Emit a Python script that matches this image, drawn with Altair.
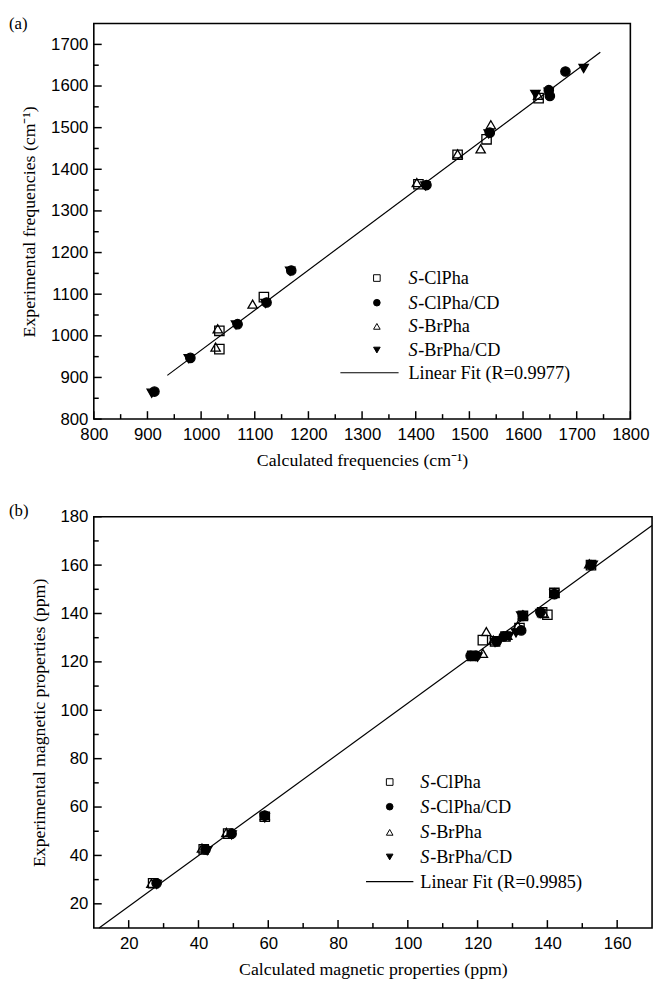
import altair as alt
import pandas as pd

# ---------------- Panel (a): vibrational frequencies ----------------
a_cl_x = [1034, 1034, 1117, 1405, 1478, 1532, 1629]
a_cl_y = [968, 1012, 1093, 1364, 1435, 1472, 1571]
a_clcd_x = [913, 980, 1068, 1122, 1168, 1420, 1538, 1648, 1650, 1679]
a_clcd_y = [866, 947, 1028, 1080, 1157, 1362, 1488, 1590, 1576, 1635]
a_br_x = [1027, 1031, 1096, 1402, 1478, 1521, 1540, 1628]
a_br_y = [973, 1017, 1076, 1368, 1437, 1449, 1507, 1578]
a_brcd_x = [908, 977, 1065, 1120, 1166, 1418, 1536, 1623, 1648, 1713]
a_brcd_y = [862, 945, 1026, 1078, 1155, 1360, 1485, 1580, 1585, 1642]
a_fit_x = [937, 1744]
a_fit_y = [905, 1681]
a_x_major = [800, 900, 1000, 1100, 1200, 1300, 1400, 1500, 1600, 1700, 1800]
a_x_minor = [850, 950, 1050, 1150, 1250, 1350, 1450, 1550, 1650, 1750]
a_y_major = [800, 900, 1000, 1100, 1200, 1300, 1400, 1500, 1600, 1700]
a_y_minor = [850, 950, 1050, 1150, 1250, 1350, 1450, 1550, 1650]
a_fit_label = "Linear Fit (R=0.9977)"

# ---------------- Panel (b): magnetic properties ----------------
b_cl_x = [27, 41.5, 48.5, 59, 118.5, 121.5, 125, 128, 132, 133, 138.5, 140, 142, 152.5]
b_cl_y = [28.5, 42.5, 49, 56, 122.5, 129, 128.5, 130.5, 134, 139, 140.5, 139.5, 148.5, 160]
b_clcd_x = [28, 42, 49.5, 59, 118, 119.5, 125.5, 127.5, 132.5, 133, 138, 142, 152.5]
b_clcd_y = [28.5, 42.5, 49, 56.5, 122.5, 122.5, 128.5, 130.5, 133, 139, 140.5, 148, 160]
b_br_x = [26.5, 41, 48, 59, 121.5, 122.5, 124.5, 128.5, 131.5, 133, 139, 142, 152]
b_br_y = [28.5, 43, 49.5, 56.5, 123.5, 132.5, 129, 131, 135, 139.5, 140, 148.5, 160.5]
b_brcd_x = [28, 42.5, 49.5, 59, 118.5, 120, 125, 129, 131, 132.5, 138, 142, 153]
b_brcd_y = [28, 42, 48.5, 55.5, 122.5, 122, 128, 130.5, 132, 139, 140, 148, 160]
b_fit_x = [11.5, 170]
b_fit_y = [10, 176.4]
b_x_major = [20, 40, 60, 80, 100, 120, 140, 160]
b_x_minor = [30, 50, 70, 90, 110, 130, 150]
b_y_major = [20, 40, 60, 80, 100, 120, 140, 160, 180]
b_y_minor = [30, 50, 70, 90, 110, 130, 150, 170]
b_fit_label = "Linear Fit (R=0.9985)"

series_names = ["S-ClPha", "S-ClPha/CD", "S-BrPha", "S-BrPha/CD"]
series_shapes = ["square", "circle", "triangle-up", "triangle-down"]
series_fills = ["transparent", "black", "transparent", "black"]
series_sizes = [90, 90, 130, 130]

SANS = "Liberation Sans"
SERIF = "Liberation Serif"
LBL = 17
TTL = 18
LEG = 18.5


def make_points(xs_list, ys_list):
    rows = []
    for name, xs, ys in zip(series_names, xs_list, ys_list):
        for x, y in zip(xs, ys):
            rows.append({"series": name, "x": x, "y": y})
    return pd.DataFrame(rows)


def panel(pts, fit_x, fit_y, xdom, ydom, xmaj, xmin, ymaj, ymin, W, H,
          xtitle, ytitle, tag, tag_dy, leg_sym_x, leg_txt_x, leg_rows,
          leg_line, fit_label):
    xs = alt.Scale(domain=xdom, nice=False, zero=False)
    ys = alt.Scale(domain=ydom, nice=False, zero=False)
    xax = alt.Axis(values=xmaj, format="d", ticks=False, domain=False, grid=False,
                   labelFont=SANS, labelFontSize=LBL, labelColor="black",
                   labelPadding=8, title=xtitle, titleFont=SERIF,
                   titleFontSize=TTL, titleFontWeight="normal",
                   titleColor="black", titlePadding=9, labelFlush=False)
    yax = alt.Axis(values=ymaj, format="d", ticks=False, domain=False, grid=False,
                   labelFont=SANS, labelFontSize=LBL, labelColor="black",
                   labelPadding=6, title=ytitle, titleFont=SERIF,
                   titleFontSize=TTL, titleFontWeight="normal",
                   titleColor="black", titlePadding=12, labelFlush=False)

    fit_df = pd.DataFrame({"x": fit_x, "y": fit_y})
    fit = alt.Chart(fit_df).mark_line(color="black", strokeWidth=1.2).encode(
        x=alt.X("x:Q", scale=xs, axis=xax),
        y=alt.Y("y:Q", scale=ys, axis=yax),
    )
    points = alt.Chart(pts).mark_point(
        stroke="black", strokeWidth=1.3, opacity=1
    ).encode(
        x=alt.X("x:Q", scale=xs, axis=xax),
        y=alt.Y("y:Q", scale=ys, axis=yax),
        shape=alt.Shape("series:N", scale=alt.Scale(domain=series_names, range=series_shapes), legend=None),
        fill=alt.Fill("series:N", scale=alt.Scale(domain=series_names, range=series_fills), legend=None),
        size=alt.Size("series:N", scale=alt.Scale(domain=series_names, range=series_sizes), legend=None),
    )

    def xticks(vals, length):
        return alt.Chart(pd.DataFrame({"v": vals})).mark_rule(color="black", strokeWidth=1.5).encode(
            x=alt.X("v:Q", scale=xs, axis=xax),
            y=alt.value(H), y2=alt.value(H - length))

    def yticks(vals, length):
        return alt.Chart(pd.DataFrame({"v": vals})).mark_rule(color="black", strokeWidth=1.5).encode(
            y=alt.Y("v:Q", scale=ys, axis=yax),
            x=alt.value(0), x2=alt.value(length))

    layers = [xticks(xmaj, 8), xticks(xmin, 5), yticks(ymaj, 8), yticks(ymin, 5), fit, points]

    one = pd.DataFrame({"k": [0]})
    # panel tag
    layers.append(alt.Chart(one).mark_text(font=SERIF, fontSize=17, align="left",
                                           baseline="middle", color="black").encode(
        x=alt.value(-86), y=alt.value(tag_dy), text=alt.value(tag)))
    # manual legend
    for i in range(4):
        layers.append(alt.Chart(one).mark_point(
            shape=series_shapes[i], filled=True, fill=series_fills[i], stroke="black",
            strokeWidth=1, size=45, opacity=1).encode(
            x=alt.value(leg_sym_x), y=alt.value(leg_rows[i])))
        layers.append(alt.Chart(one).mark_text(font=SERIF, fontSize=LEG, fontStyle="italic",
                                               align="left", baseline="middle", color="black").encode(
            x=alt.value(leg_txt_x), y=alt.value(leg_rows[i]), text=alt.value("S")))
        layers.append(alt.Chart(one).mark_text(font=SERIF, fontSize=LEG,
                                               align="left", baseline="middle", color="black").encode(
            x=alt.value(leg_txt_x + 10), y=alt.value(leg_rows[i]), text=alt.value(series_names[i][1:])))
    layers.append(alt.Chart(one).mark_rule(color="black", strokeWidth=1.2).encode(
        x=alt.value(leg_line[0]), x2=alt.value(leg_line[1]), y=alt.value(leg_rows[4])))
    layers.append(alt.Chart(one).mark_text(font=SERIF, fontSize=LEG,
                                           align="left", baseline="middle", color="black").encode(
        x=alt.value(leg_txt_x), y=alt.value(leg_rows[4]), text=alt.value(fit_label)))

    return alt.layer(*layers).properties(width=W, height=H)


pa = make_points([a_cl_x, a_clcd_x, a_br_x, a_brcd_x], [a_cl_y, a_clcd_y, a_br_y, a_brcd_y])
pb = make_points([b_cl_x, b_clcd_x, b_br_x, b_brcd_x], [b_cl_y, b_clcd_y, b_br_y, b_brcd_y])

chart_a = panel(pa, a_fit_x, a_fit_y, [800, 1800], [800, 1750], a_x_major, a_x_minor,
                a_y_major, a_y_minor, 544, 401,
                "Calculated frequencies (cm⁻¹)", "Experimental frequencies (cm⁻¹)",
                "(a)", 1, 287, 319, [258, 283, 307, 331, 354], [250, 309], a_fit_label)
chart_b = panel(pb, b_fit_x, b_fit_y, [10, 170], [10, 180], b_x_major, b_x_minor,
                b_y_major, b_y_minor, 566, 417,
                "Calculated magnetic properties (ppm)", "Experimental magnetic properties (ppm)",
                "(b)", -6, 300, 331, [269, 294, 320, 345, 370], [276, 324], b_fit_label)

chart = alt.vconcat(chart_a, chart_b, spacing=31).properties(
    padding={"left": 0, "top": 0, "right": 0, "bottom": 0}
).configure_view(stroke="black", strokeWidth=1.6)

chart.save("out.html", embed_options={"renderer": "svg", "actions": False})
